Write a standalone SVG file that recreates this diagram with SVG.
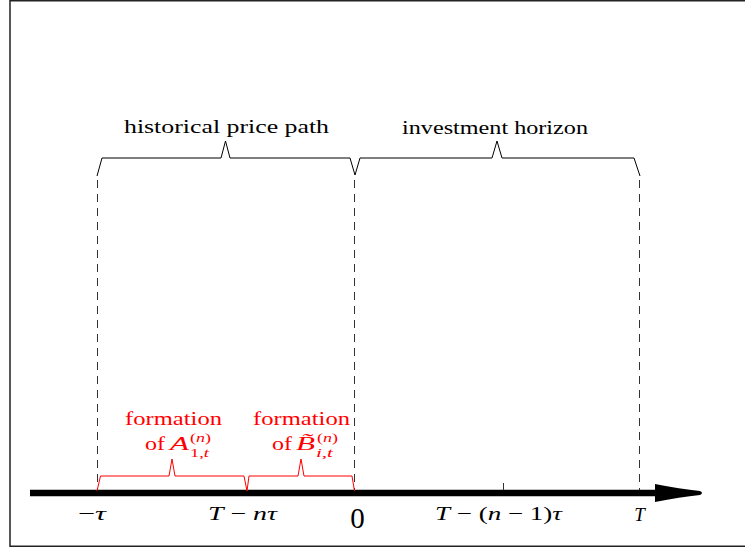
<svg xmlns="http://www.w3.org/2000/svg" width="745" height="549" viewBox="0 0 745 549">
<style>
  text { font-family: 'Liberation Serif', 'DejaVu Serif', serif; fill: #000; }
  .lbl { font-size: 19px; }
  .red { fill: #ff0000; }
  .it { font-style: italic; }
  .up { font-style: normal; }
  .brace { fill: none; stroke: #000; stroke-width: 1; stroke-linejoin: miter; }
  .rbrace { fill: none; stroke: #ff0000; stroke-width: 1; }
  .dash { stroke: #333; stroke-width: 1; stroke-dasharray: 8 6; fill: none; }
</style>
<rect x="10" y="0.75" width="745" height="545.5" fill="#fff" stroke="#222" stroke-width="1.5"/>

<g id="guides">
  <line class="dash" x1="97.5" y1="180" x2="97.5" y2="490"/>
  <line class="dash" x1="354.5" y1="180" x2="354.5" y2="490"/>
  <line class="dash" x1="639.5" y1="180" x2="639.5" y2="490"/>
</g>

<g id="axis">
  <line x1="30" y1="493" x2="660" y2="493" stroke="#000" stroke-width="6.5"/>
  <path d="M655,484 Q680,489 700,491 Q704,493 700,495 Q680,497 655,502 Z" fill="#000"/>
  <line x1="503.5" y1="483" x2="503.5" y2="490" stroke="#333" stroke-width="1"/>
</g>

<g id="brace-history">
  <path class="brace" d="M97,176 L102,158 L221,158 L225.5,141 L230,158 L350,158 L355,175"/>
  <text class="lbl" font-family="Liberation Serif, serif" x="226.5" y="133" text-anchor="middle" textLength="205" lengthAdjust="spacingAndGlyphs">historical price path</text>
</g>

<g id="brace-horizon">
  <path class="brace" d="M355,175 L360,158 L492,158 L497,141 L502,158 L634,158 L640,176"/>
  <text class="lbl" font-family="Liberation Serif, serif" x="495" y="134" text-anchor="middle" textLength="186" lengthAdjust="spacingAndGlyphs">investment horizon</text>
</g>

<g id="formation-A">
  <path class="rbrace" d="M97,491 L100.5,476 L169,476 L172,459 L175,476 L244,476 L247,491"/>
  <text class="lbl red" font-family="Liberation Serif, serif"><tspan x="125" y="425" textLength="97" lengthAdjust="spacingAndGlyphs">formation</tspan><tspan x="145" y="450" textLength="20" lengthAdjust="spacingAndGlyphs">of</tspan><tspan class="it" x="170" y="450" textLength="19" lengthAdjust="spacingAndGlyphs">A</tspan><tspan x="190" y="442" font-size="13" textLength="21" lengthAdjust="spacingAndGlyphs">(<tspan class="it">n</tspan>)</tspan><tspan x="190" y="457" font-size="13" textLength="19" lengthAdjust="spacingAndGlyphs">1,<tspan class="it">t</tspan></tspan></text>
</g>

<g id="formation-B">
  <path class="rbrace" d="M247,491 L249,476 L298,476 L301,459 L304,476 L352,476 L354.5,491"/>
  <text class="lbl red" font-family="Liberation Serif, serif"><tspan x="253" y="425" textLength="97" lengthAdjust="spacingAndGlyphs">formation</tspan><tspan x="272" y="450" textLength="20" lengthAdjust="spacingAndGlyphs">of</tspan><tspan class="it" x="296" y="450" textLength="19" lengthAdjust="spacingAndGlyphs">B&#x0303;</tspan><tspan x="317" y="442" font-size="13" textLength="21" lengthAdjust="spacingAndGlyphs">(<tspan class="it">n</tspan>)</tspan><tspan class="it" x="316" y="457" font-size="13" textLength="17" lengthAdjust="spacingAndGlyphs">i<tspan class="up">,</tspan>t</tspan></text>
</g>

<g id="ticks">
  <text class="lbl" font-family="Liberation Serif, serif" x="78" y="520" textLength="28" lengthAdjust="spacingAndGlyphs">−<tspan class="it">τ</tspan></text>
  <text class="lbl" font-family="Liberation Serif, serif" x="208" y="520" textLength="69" lengthAdjust="spacingAndGlyphs"><tspan class="it">T</tspan> − <tspan class="it">nτ</tspan></text>
  <text font-family="Liberation Serif, serif" x="357.5" y="528" font-size="29" text-anchor="middle">0</text>
  <text class="lbl" font-family="Liberation Serif, serif" x="435" y="520" textLength="127" lengthAdjust="spacingAndGlyphs"><tspan class="it">T</tspan> − (<tspan class="it">n</tspan> − 1)<tspan class="it">τ</tspan></text>
  <text class="lbl it" font-family="Liberation Serif, serif" x="639.5" y="521" text-anchor="middle">T</text>
</g>
</svg>
